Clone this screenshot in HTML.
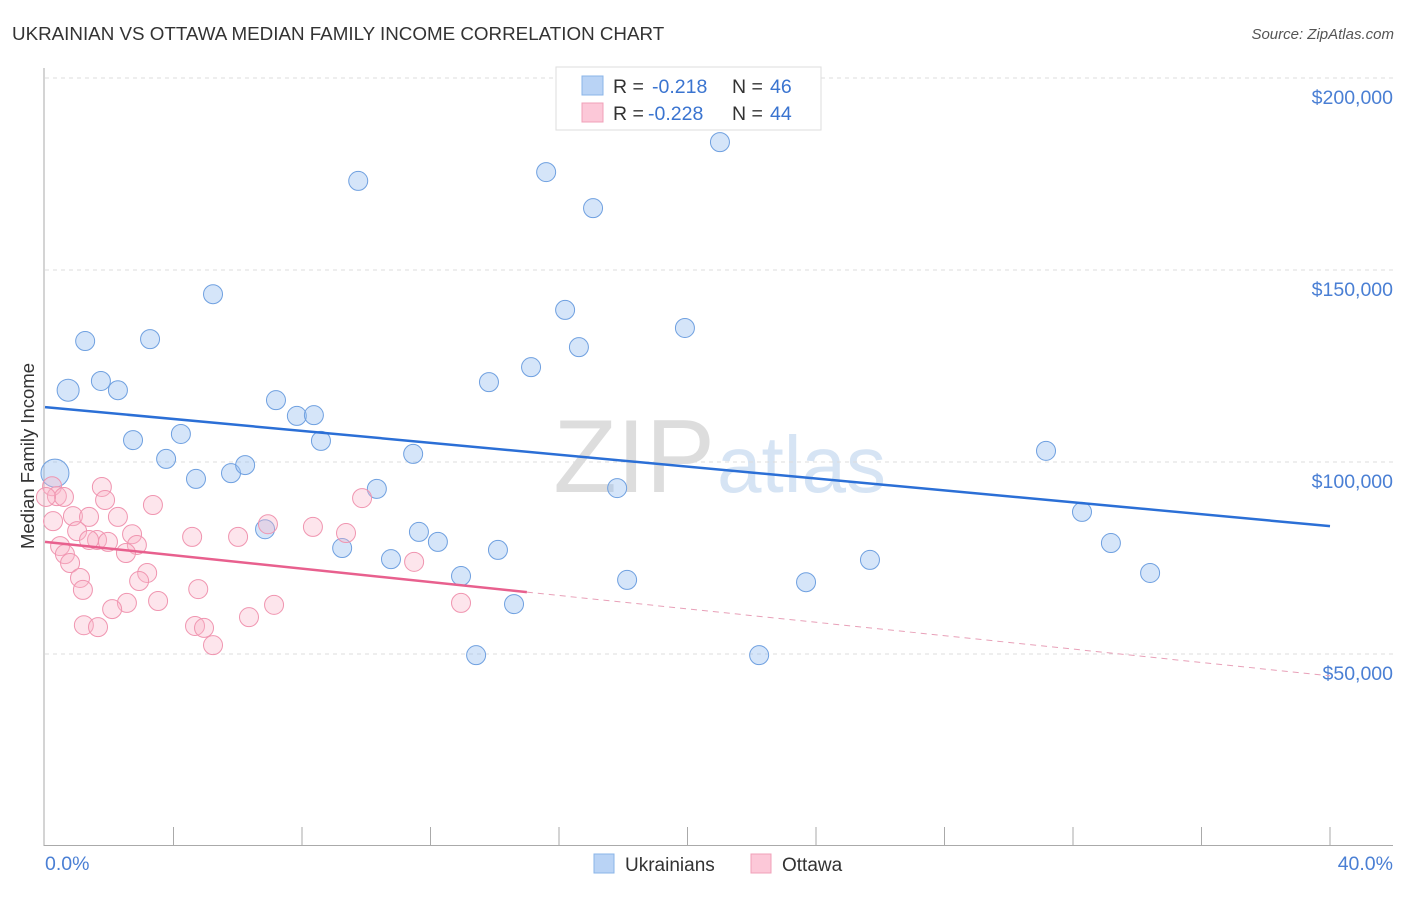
<!DOCTYPE html>
<html><head><meta charset="utf-8">
<style>
body{margin:0;background:#fff;font-family:"Liberation Sans",sans-serif;}
svg text{font-family:"Liberation Sans",sans-serif;}
</style></head>
<body>
<svg id="chart" width="1406" height="892" xmlns="http://www.w3.org/2000/svg">
<text x="12" y="40" font-size="18.8" fill="#333">UKRAINIAN VS OTTAWA MEDIAN FAMILY INCOME CORRELATION CHART</text>
<text x="1394" y="39" font-size="15" fill="#555" font-style="italic" text-anchor="end">Source: ZipAtlas.com</text>
<text x="715" y="492" font-size="104" fill="#ddd" text-anchor="end" font-family="Liberation Serif">ZIP</text>
<text x="717" y="492" font-size="80" fill="#d6e4f4">atlas</text>
<g id="grid"></g>
<g id="axes"></g>
<g id="pts"></g>
<g id="lines"></g>
<text transform="translate(34,456) rotate(-90)" font-size="18.5" fill="#333" text-anchor="middle">Median Family Income</text>
<text x="45" y="870" font-size="19.5" fill="#4a7fd4">0.0%</text>
<text x="1393" y="870" font-size="19.5" fill="#4a7fd4" text-anchor="end">40.0%</text>
<g>
<rect x="556" y="67" width="265" height="63" fill="#fff" stroke="#ddd"/>
<rect x="582" y="76" width="21" height="19" fill="#b9d3f5" stroke="#8ab4e8"/>
<rect x="582" y="103" width="21" height="19" fill="#fcc8d8" stroke="#f0a0b8"/>
<text x="613" y="93" font-size="19.5" fill="#333">R = </text>
<text x="652" y="93" font-size="19.5" fill="#3a74d0">-0.218</text>
<text x="732" y="93" font-size="19.5" fill="#333">N = </text>
<text x="770" y="93" font-size="19.5" fill="#3a74d0">46</text>
<text x="613" y="120" font-size="19.5" fill="#333">R = </text>
<text x="648" y="120" font-size="19.5" fill="#3a74d0">-0.228</text>
<text x="732" y="120" font-size="19.5" fill="#333">N = </text>
<text x="770" y="120" font-size="19.5" fill="#3a74d0">44</text>
</g>
<g>
<rect x="594" y="854" width="20" height="19" fill="#b9d3f5" stroke="#8ab4e8"/>
<text x="625" y="871" font-size="19" fill="#333">Ukrainians</text>
<rect x="751" y="854" width="20" height="19" fill="#fcc8d8" stroke="#f0a0b8"/>
<text x="782" y="871" font-size="19" fill="#333">Ottawa</text>
</g>
</svg>
<script>
const blueX=[0.31,0.72,1.25,1.74,2.27,3.27,2.74,3.77,4.23,4.70,5.23,5.79,6.23,6.85,7.19,7.84,8.37,8.59,9.25,9.75,10.33,10.77,11.46,11.64,12.23,12.95,13.42,13.82,14.10,14.60,15.13,15.60,16.19,16.62,17.06,17.81,18.12,19.92,21.01,22.23,23.69,25.68,31.16,32.28,33.18,34.40];
const blueY=[97.1,118.7,131.5,121.1,118.7,132.0,105.7,100.8,107.3,95.6,143.7,97.1,99.2,82.5,116.1,112.0,112.2,105.5,77.6,173.2,93.0,74.7,102.1,81.8,79.2,70.3,49.7,120.8,77.1,63.0,124.7,175.5,139.6,129.9,166.1,93.2,69.3,134.9,183.3,49.7,68.7,74.5,102.9,87.0,78.9,71.1];
const pinkX=[0.22,0.37,0.59,0.25,0.87,1.0,1.37,1.77,1.87,2.27,3.36,0.47,0.62,0.78,1.09,1.18,1.62,1.96,2.71,2.86,2.52,3.18,2.93,3.52,2.55,2.09,1.21,1.65,4.58,6.01,4.77,4.67,4.95,5.23,6.35,7.13,6.94,8.34,9.37,9.87,11.49,12.95,1.37,0.03];
const pinkY=[93.7,91.1,90.9,84.6,85.9,82.0,85.7,93.5,90.1,85.7,88.8,78.1,76.0,73.7,69.8,66.7,79.7,79.2,81.2,78.4,76.3,71.1,69.0,63.8,63.3,61.7,57.5,57.0,80.5,80.5,66.9,57.3,56.8,52.3,59.6,62.8,83.8,83.1,81.5,90.6,74.0,63.3,79.7,90.9];
const yTicks=[50,100,150,200];
const yTickLabels=["$50,000","$100,000","$150,000","$200,000"];
const blueTrend=[114.3,83.3];
const pinkTrend=[79.2,44.3];
const pinkSolidEnd=15;
const NS="http://www.w3.org/2000/svg";
const X=p=>45+p/40*1285;
const Y=k=>846-k/50*192;
function mk(t,a,parent){const e=document.createElementNS(NS,t);for(const k in a)e.setAttribute(k,a[k]);document.getElementById(parent).appendChild(e);return e;}
yTicks.forEach((v,i)=>{
 const l=mk('line',{x1:45,x2:1393,y1:Y(v),y2:Y(v),stroke:'#ddd','stroke-dasharray':'4,4'},'grid');
 
 
 const t=mk('text',{x:1393,y:Y(v)+26,'font-size':19.5,fill:'#4a7fd4','text-anchor':'end'},'grid');
 t.textContent=yTickLabels[i];
 
 
});
const ya=mk('line',{x1:44,x2:44,y1:68,y2:846,stroke:'#aaa'},'axes');


const xa=mk('line',{x1:44,x2:1393,y1:845.5,y2:845.5,stroke:'#aaa'},'axes');


for(let p=4;p<=40;p+=4){
 const t=mk('line',{x1:X(p),x2:X(p),y1:827,y2:846,stroke:'#aaa'},'axes');
 
 
}
blueX.forEach((x,i)=>{
 const r=i==0?14:(i==1?11:9.5);
 const c=mk('circle',{cx:X(x),cy:Y(blueY[i]),r:r,fill:'rgba(150,190,240,0.4)',stroke:'#6fa0e0','stroke-width':1},'pts');
 
 
});
pinkX.forEach((x,i)=>{
 const c=mk('circle',{cx:X(x),cy:Y(pinkY[i]),r:9.5,fill:'rgba(250,180,200,0.35)',stroke:'#f095b0','stroke-width':1},'pts');
 
 
});
const bl=mk('line',{x1:X(0),y1:Y(blueTrend[0]),x2:X(40),y2:Y(blueTrend[1]),stroke:'#2b6fd6','stroke-width':2.5},'lines');


const pv=p=>pinkTrend[0]+(pinkTrend[1]-pinkTrend[0])*p/40;
const ps=mk('line',{x1:X(0),y1:Y(pv(0)),x2:X(pinkSolidEnd),y2:Y(pv(pinkSolidEnd)),stroke:'#e8608e','stroke-width':2.5},'lines');


const pd=mk('line',{x1:X(pinkSolidEnd),y1:Y(pv(pinkSolidEnd)),x2:X(40),y2:Y(pv(40)),stroke:'#e8a0b8','stroke-width':1,'stroke-dasharray':'6,5'},'lines');


</script>
</body></html>
